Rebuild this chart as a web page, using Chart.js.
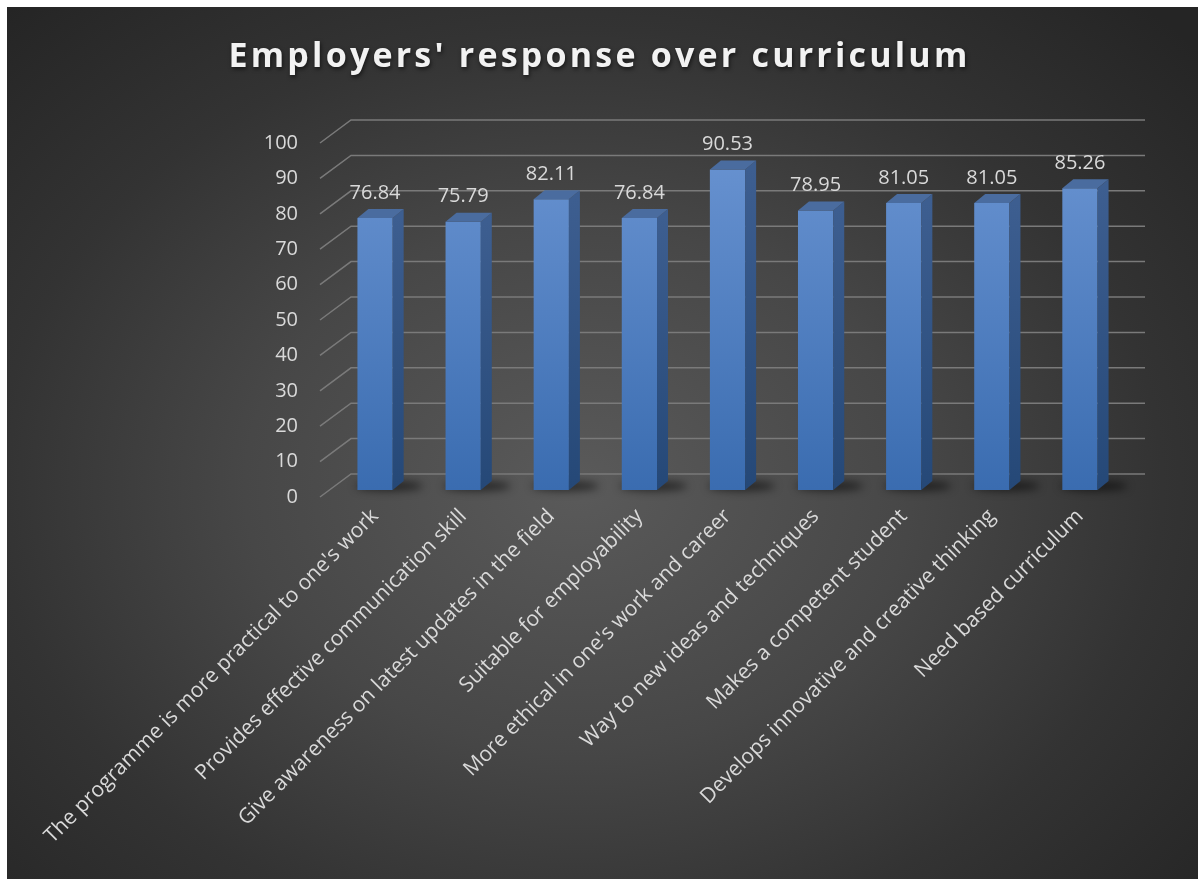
<!DOCTYPE html>
<html>
<head>
<meta charset="utf-8">
<title>Employers' response over curriculum</title>
<script src="https://cdn.jsdelivr.net/npm/chart.js@4"></script>
<style>
  html, body { margin: 0; padding: 0; background: #fff; }
  .box {
    position: absolute; left: 7px; top: 7px; width: 1191px; height: 872px;
    background: radial-gradient(ellipse 70% 75% at 48% 55%, #5a5a5a 0%, #474747 40%, #333 70%, #252525 100%);
  }
</style>
</head>
<body>
<div class="box"><canvas id="chart" width="1191" height="872"></canvas></div>
<script>
const titleText = "Employers' response over curriculum";

const categories = [
  "The programme is more practical to one's work",
  'Provides effective communication skill',
  'Give awareness on latest updates in the field',
  'Suitable for employability',
  "More ethical in one's work and career",
  'Way to new ideas and techniques',
  'Makes a competent student',
  'Develops innovative and creative thinking',
  'Need based curriculum'
];
const scores = [76.84, 75.79, 82.11, 76.84, 90.53, 78.95, 81.05, 81.05, 85.26];

const yMin = 0, yMax = 100, yStep = 10;

// depth of the 3d look
const DX = 11, DY = 9;       // bar side/top
const WALL_DX = 31, WALL_DY = 16, FLOOR_DY = 7;

const FONT = "'Open Sans', 'Noto Sans', sans-serif";
const textCol = '#d9d9d9';

const chartTitle = {
  id: 'chartTitle',
  afterDraw(chart) {
    const ctx = chart.ctx;
    ctx.save();
    ctx.font = 'bold 34px ' + FONT;
    ctx.letterSpacing = '3.2px';
    ctx.fillStyle = '#f2f2f2';
    ctx.textAlign = 'center';
    ctx.textBaseline = 'middle';
    ctx.shadowColor = 'rgba(0,0,0,0.6)';
    ctx.shadowBlur = 4;
    ctx.shadowOffsetX = 1;
    ctx.shadowOffsetY = 2;
    ctx.fillText(titleText, chart.width / 2 - 3, 50);
    ctx.restore();
  }
};

// back wall grid + floor shadows
const wallGrid = {
  id: 'wallGrid',
  beforeDatasetsDraw(chart) {
    const ctx = chart.ctx, y = chart.scales.y, area = chart.chartArea;
    const x0 = area.left - 11, x1 = x0 + WALL_DX, x2 = area.right + 21;
    ctx.save();
    ctx.strokeStyle = '#7a7a7a';
    ctx.lineWidth = 1.5;
    for (let v = yMin; v <= yMax; v += yStep) {
      const py = y.getPixelForValue(v);
      ctx.beginPath();
      ctx.moveTo(x0, py + FLOOR_DY);
      ctx.lineTo(x1, py - WALL_DY);
      ctx.lineTo(x2, py - WALL_DY);
      ctx.stroke();
    }
    // soft shadows on the floor
    const meta = chart.getDatasetMeta(0);
    ctx.filter = 'blur(4px)';
    ctx.fillStyle = 'rgba(0,0,0,0.55)';
    meta.data.forEach(bar => {
      ctx.beginPath();
      ctx.ellipse(bar.x + 14, bar.base - 4, bar.width * 0.95, 5, 0, 0, Math.PI * 2);
      ctx.fill();
    });
    ctx.restore();
  }
};

// side and top faces of each bar, then the value labels
const bar3d = {
  id: 'bar3d',
  afterDatasetsDraw(chart) {
    const ctx = chart.ctx;
    const meta = chart.getDatasetMeta(0);
    ctx.save();
    meta.data.forEach((bar, i) => {
      const l = bar.x - bar.width / 2, r = bar.x + bar.width / 2;
      const t = bar.y, b = bar.base;
      const side = ctx.createLinearGradient(0, t, 0, b);
      side.addColorStop(0, '#3d5e90');
      side.addColorStop(1, '#254877');
      ctx.fillStyle = side;
      ctx.beginPath();
      ctx.moveTo(r, t); ctx.lineTo(r + DX, t - DY); ctx.lineTo(r + DX, b - DY); ctx.lineTo(r, b);
      ctx.closePath(); ctx.fill();
      ctx.fillStyle = '#4a6c9f';
      ctx.beginPath();
      ctx.moveTo(l, t); ctx.lineTo(l + DX, t - DY); ctx.lineTo(r + DX, t - DY); ctx.lineTo(r, t);
      ctx.closePath(); ctx.fill();

      ctx.font = '20px ' + FONT;
      ctx.fillStyle = textCol;
      ctx.textAlign = 'center';
      ctx.textBaseline = 'middle';
      ctx.fillText(scores[i].toFixed(2), bar.x, t - 25);
    });
    ctx.restore();
  }
};

new Chart(document.getElementById('chart'), {
  type: 'bar',
  data: {
    labels: categories,
    datasets: [{
      data: scores,
      categoryPercentage: 1,
      barPercentage: 0.4,
      backgroundColor(c) {
        const area = c.chart.chartArea;
        if (!area) return '#4a7cc0';
        const g = c.chart.ctx.createLinearGradient(0, area.top, 0, area.bottom);
        g.addColorStop(0, '#6a94d2');
        g.addColorStop(1, '#3a6cb0');
        return g;
      },
      borderWidth: 0
    }]
  },
  options: {
    responsive: false,
    animation: false,
    layout: { padding: { top: 129, right: 74, left: 0, bottom: 0 } },
    plugins: {
      legend: { display: false },
      tooltip: { enabled: false },
      title: { display: false }
    },
    scales: {
      x: {
        grid: { display: false, drawTicks: false },
        border: { display: false },
        ticks: {
          autoSkip: false,
          maxRotation: 45,
          minRotation: 45,
          padding: 14,
          color: textCol,
          font: { family: FONT, size: 21 }
        },
        afterFit(scale) { scale.height = 389; }
      },
      y: {
        min: yMin,
        max: yMax,
        grid: { display: false, drawTicks: false },
        border: { display: false },
        ticks: {
          stepSize: yStep,
          padding: 33,
          labelOffset: 7,
          color: textCol,
          font: { family: FONT, size: 20 }
        },
        afterFit(scale) { scale.width = 324; }
      }
    }
  },
  plugins: [wallGrid, bar3d, chartTitle]
});
</script>
</body>
</html>
